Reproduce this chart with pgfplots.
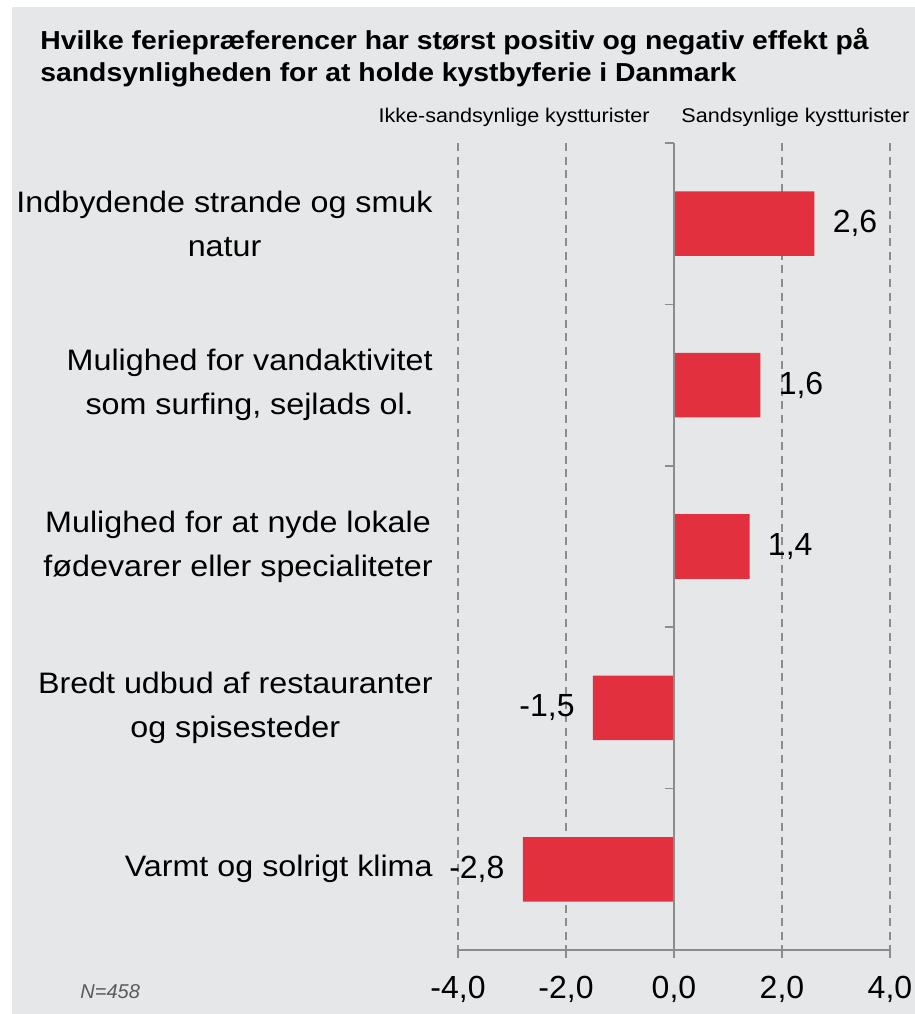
\documentclass[border=0pt]{standalone}
\usepackage{fontspec}
\setmainfont{Liberation Sans}
\newfontfamily\widefont[FakeStretch=1.09]{Liberation Sans}
\usepackage{pgfplots}
\pgfplotsset{compat=1.18}

\definecolor{bgcol}{HTML}{E6E7E9}
\definecolor{barred}{HTML}{E3303F}
\definecolor{axgray}{HTML}{8C8C8C}
\definecolor{notegray}{HTML}{5A5A5A}

\begin{document}
\begin{tikzpicture}
% canvas: 1 px of the reference = 0.5pt
\path[use as bounding box] (0,0) rectangle (457.5pt,507pt);
\fill[bgcol] (6pt,0) rectangle (457.5pt,503.5pt);

\begin{axis}[
    at={(229pt,32pt)}, anchor=south west,
    scale only axis,
    width=216pt, height=403.5pt,
    xmin=-4, xmax=4,
    ymin=-0.5, ymax=4.5,
    y dir=reverse,
    axis x line*=bottom,
    axis y line*=left,
    y axis line style={draw=none},
    x axis line style={axgray, line width=0.75pt},
    xtick={-4,-2,0,2,4},
    ytick={0,1,2,3,4},
    yticklabels={
        {Indbydende strande og smuk\\natur},
        {Mulighed for vandaktivitet\\som surfing, sejlads ol.},
        {Mulighed for at nyde lokale\\fødevarer eller specialiteter},
        {Bredt udbud af restauranter\\og spisesteder},
        {Varmt og solrigt klima}},
    major y tick style={draw=none},
    major x tick style={axgray, line width=0.75pt},
    tick align=outside,
    major tick length=4pt,
    xmajorgrids,
    major grid style={axgray, line width=0.75pt, dash pattern=on 4pt off 2.8pt},
    /pgf/number format/.cd, fixed, fixed zerofill, precision=1, use comma,
    assume math mode=true, /pgfplots/.cd,
    xticklabel style={font=\fontsize{16}{19}\selectfont, yshift=-5.5pt},
    yticklabel style={font=\widefont\fontsize{14.8}{22}\selectfont, align=center,
        inner xsep=0pt, xshift=-8.5pt},
    clip=false,
]
\addplot[xbar, bar width=0.4, fill=barred, draw=none,
    nodes near coords, nodes near coords align={horizontal},
    every node near coord/.append style={font=\fontsize{16}{19}\selectfont,
        inner xsep=9pt, inner ysep=0pt, black}]
    coordinates {
    (2.6,0)
    (1.6,1)
    (1.4,2)
    (-1.5,3)
    (-2.8,4)
};
% solid zero line with small ticks at the category borders
\draw[axgray, line width=0.75pt] (axis cs:0,-0.5) -- (axis cs:0,4.5);
\pgfplotsinvokeforeach{-0.5,0.5,1.5,2.5,3.5}{
    \draw[axgray, line width=0.75pt] (axis cs:0,#1) -- ([xshift=-4.5pt]axis cs:0,#1);
}
\end{axis}

% title and side headings
\node[anchor=base west, inner sep=0pt, font=\widefont\bfseries\fontsize{13}{15}\selectfont] at (20pt,482pt)
    {Hvilke feriepræferencer har størst positiv og negativ effekt på};
\node[anchor=base west, inner sep=0pt, font=\widefont\bfseries\fontsize{13}{15}\selectfont] at (20pt,466pt)
    {sandsynligheden for at holde kystbyferie i Danmark};
\node[anchor=base east, inner sep=0pt, font=\widefont\fontsize{9.9}{11}\selectfont] at (325pt,445.5pt)
    {Ikke-sandsynlige kystturister};
\node[anchor=base west, inner sep=0pt, font=\widefont\fontsize{9.9}{11}\selectfont] at (340.5pt,445.5pt)
    {Sandsynlige kystturister};
\node[anchor=base west, inner sep=0pt, text=notegray, font=\itshape\fontsize{10}{12}\selectfont] at (40pt,8pt)
    {N=458};
\end{tikzpicture}
\end{document}
